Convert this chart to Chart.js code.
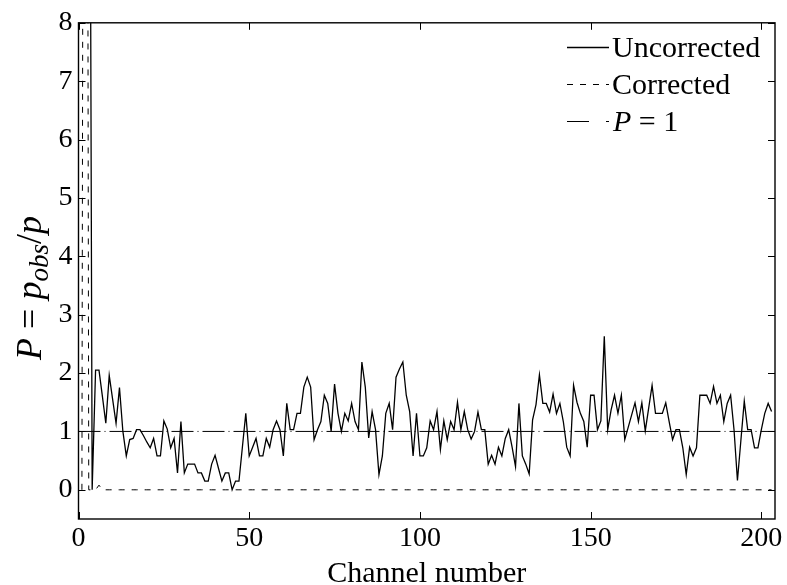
<!DOCTYPE html>
<html>
<head>
<meta charset="utf-8">
<script src="https://cdn.jsdelivr.net/npm/chart.js@4.4.0/dist/chart.umd.min.js"></script>
<style>
  html, body { margin: 0; padding: 0; background: #fff; }
</style>
</head>
<body>
<canvas id="chart" width="787" height="585"></canvas>
<script>
// P = p_obs / p per channel, channels 1..203
const uncorrected = [
  40, 40, 19, 0, 2.05, 2.05, 1.6, 1.14, 1.96, 1.55,
  1.14, 1.75, 1.0, 0.58, 0.86, 0.88, 1.03, 1.03, 0.93, 0.82,
  0.72, 0.88, 0.58, 0.58, 1.18, 1.04, 0.72, 0.88, 0.29, 1.17,
  0.29, 0.44, 0.44, 0.44, 0.29, 0.29, 0.15, 0.15, 0.44, 0.59,
  0.37, 0.15, 0.29, 0.29, 0, 0.15, 0.15, 0.73, 1.31, 0.58,
  0.73, 0.88, 0.58, 0.58, 0.88, 0.73, 1.03, 1.18, 1.03, 0.58,
  1.48, 1.03, 1.03, 1.31, 1.31, 1.76, 1.93, 1.76, 0.86, 1.03,
  1.17, 1.62, 1.48, 1.0, 1.81, 1.31, 1.0, 1.31, 1.18, 1.48,
  1.17, 1.03, 2.19, 1.76, 0.89, 1.34, 1.03, 0.26, 0.58, 1.31,
  1.48, 1.03, 1.93, 2.07, 2.19, 1.62, 1.34, 0.58, 1.31, 0.58,
  0.58, 0.72, 1.18, 1.03, 1.34, 0.69, 1.18, 0.86, 1.17, 1.03,
  1.5, 1.03, 1.34, 1.03, 0.87, 1.0, 1.33, 1.03, 1.03, 0.44,
  0.59, 0.44, 0.73, 0.58, 0.88, 1.03, 0.73, 0.4, 1.48, 0.58,
  0.44, 0.27, 1.2, 1.46, 1.97, 1.48, 1.48, 1.33, 1.64, 1.31,
  1.48, 1.17, 0.73, 0.58, 1.79, 1.5, 1.31, 1.17, 0.73, 1.62,
  1.62, 1.03, 1.18, 2.63, 1.03, 1.37, 1.62, 1.31, 1.62, 0.86,
  1.07, 1.28, 1.49, 1.17, 1.49, 1.01, 1.4, 1.79, 1.31, 1.31,
  1.31, 1.49, 1.17, 0.86, 1.03, 1.03, 0.72, 0.26, 0.73, 0.58,
  0.72, 1.62, 1.62, 1.62, 1.48, 1.77, 1.48, 1.62, 1.17, 1.48,
  1.62, 1.03, 0.16, 0.84, 1.52, 1.03, 1.03, 0.72, 0.72, 1.03,
  1.31, 1.48, 1.34
];
const corrected = [
  0, 35, 0, 0, 0, 0.08, 0, 0, 0, 0,
  0, 0, 0, 0, 0, 0, 0, 0, 0, 0,
  0, 0, 0, 0, 0, 0, 0, 0, 0, 0,
  0, 0, 0, 0, 0, 0, 0, 0, 0, 0,
  0, 0, 0, 0, 0, 0, 0, 0, 0, 0,
  0, 0, 0, 0, 0, 0, 0, 0, 0, 0,
  0, 0, 0, 0, 0, 0, 0, 0, 0, 0,
  0, 0, 0, 0, 0, 0, 0, 0, 0, 0,
  0, 0, 0, 0, 0, 0, 0, 0, 0, 0,
  0, 0, 0, 0, 0, 0, 0, 0, 0, 0,
  0, 0, 0, 0, 0, 0, 0, 0, 0, 0,
  0, 0, 0, 0, 0, 0, 0, 0, 0, 0,
  0, 0, 0, 0, 0, 0, 0, 0, 0, 0,
  0, 0, 0, 0, 0, 0, 0, 0, 0, 0,
  0, 0, 0, 0, 0, 0, 0, 0, 0, 0,
  0, 0, 0, 0, 0, 0, 0, 0, 0, 0,
  0, 0, 0, 0, 0, 0, 0, 0, 0, 0,
  0, 0, 0, 0, 0, 0, 0, 0, 0, 0,
  0, 0, 0, 0, 0, 0, 0, 0, 0, 0,
  0, 0, 0, 0, 0, 0, 0, 0, 0, 0,
  0, 0, 0
];
const channels = uncorrected.map((v, i) => i + 1);
const referenceLevel = 1;

const xRange = [0, 204];
const yRange = [-0.5, 8];
const xTicks = [0, 50, 100, 150, 200];
const yTicks = [0, 1, 2, 3, 4, 5, 6, 7, 8];
const legendLabels = ['Uncorrected', 'Corrected', 'P = 1'];

const FONT = '"Liberation Serif", "Times New Roman", serif';

function toPoints(xs, ys) {
  return xs.map((x, i) => ({x: x, y: ys[i]}));
}

// draws the box, inward ticks, axis titles and legend (matlab style)
const overlay = {
  id: 'overlay',
  afterDatasetsDraw(chart) {
    const {ctx, chartArea: a, scales} = chart;
    const x = scales.x, y = scales.y;
    ctx.save();
    ctx.strokeStyle = '#000';
    ctx.lineWidth = 1.4;
    ctx.strokeRect(a.left, a.top, a.right - a.left, a.bottom - a.top);

    ctx.lineWidth = 1;
    ctx.beginPath();
    xTicks.forEach(v => {
      const px = Math.round(x.getPixelForValue(v)) + 0.5;
      ctx.moveTo(px, a.bottom); ctx.lineTo(px, a.bottom - 7);
      ctx.moveTo(px, a.top); ctx.lineTo(px, a.top + 7);
    });
    yTicks.forEach(v => {
      const py = Math.round(y.getPixelForValue(v)) + 0.5;
      ctx.moveTo(a.left, py); ctx.lineTo(a.left + 7, py);
      ctx.moveTo(a.right, py); ctx.lineTo(a.right - 7, py);
    });
    ctx.stroke();

    ctx.fillStyle = '#000';
    ctx.textBaseline = 'alphabetic';

    // x title
    ctx.font = '30px ' + FONT;
    ctx.textAlign = 'center';
    ctx.fillText('Channel number', (a.left + a.right) / 2, 582);

    // y title: P = p_obs/p, rotated
    const parts = [
      {t: 'P', it: true}, {t: ' = ', it: false}, {t: 'p', it: true},
      {t: 'obs', it: true, sub: true}, {t: '/', it: false}, {t: 'p', it: true}
    ];
    const fontFor = p => (p.it ? 'italic ' : '') + (p.sub ? '27px ' : '36px ') + FONT;
    let total = 0;
    parts.forEach(p => { ctx.font = fontFor(p); p.w = ctx.measureText(p.t).width; total += p.w; });
    ctx.save();
    ctx.translate(41, 288);
    ctx.rotate(-Math.PI / 2);
    ctx.textAlign = 'left';
    let cx = -total / 2;
    parts.forEach(p => {
      ctx.font = fontFor(p);
      ctx.fillText(p.t, cx, p.sub ? 7 : 0);
      cx += p.w;
    });
    ctx.restore();

    // legend
    const rows = [47, 84, 121];
    const dashes = [[], [6, 7], [22, 17, 3, 50]];
    rows.forEach((ry, i) => {
      ctx.setLineDash(dashes[i]);
      ctx.lineWidth = i === 0 ? 1.3 : 1;
      ctx.beginPath();
      ctx.moveTo(567, ry + 0.5);
      ctx.lineTo(609, ry + 0.5);
      ctx.stroke();
    });
    ctx.setLineDash([]);
    ctx.textAlign = 'left';
    ctx.font = '30px ' + FONT;
    ctx.fillText(legendLabels[0], 612, rows[0] + 10);
    ctx.fillText(legendLabels[1], 612, rows[1] + 10);
    ctx.font = 'italic 30px ' + FONT;
    ctx.fillText('P', 613, rows[2] + 10);
    const pw = ctx.measureText('P').width;
    ctx.font = '30px ' + FONT;
    ctx.fillText(legendLabels[2].slice(1), 613 + pw, rows[2] + 10);
    ctx.restore();
  }
};

const tickFont = {family: FONT, size: 28};

new Chart(document.getElementById('chart'), {
  type: 'line',
  data: {
    datasets: [
      {
        label: legendLabels[0],
        data: toPoints(channels, uncorrected),
        borderColor: '#000',
        borderWidth: 1.3,
        pointRadius: 0,
        tension: 0,
        clip: 0
      },
      {
        label: legendLabels[1],
        data: toPoints(channels, corrected),
        borderColor: '#000',
        borderWidth: 1,
        borderDash: [6, 7],
        pointRadius: 0,
        tension: 0,
        clip: 0
      },
      {
        label: legendLabels[2],
        data: toPoints(xRange, [referenceLevel, referenceLevel]),
        borderColor: '#000',
        borderWidth: 1,
        borderDash: [22, 4, 1, 4],
        pointRadius: 0,
        clip: 0
      }
    ]
  },
  options: {
    responsive: false,
    animation: false,
    layout: {padding: {top: 15, right: 12, left: 0, bottom: 0}},
    plugins: {legend: {display: false}, tooltip: {enabled: false}},
    scales: {
      x: {
        type: 'linear',
        min: xRange[0],
        max: xRange[1],
        afterBuildTicks: ax => { ax.ticks = xTicks.map(v => ({value: v})); },
        afterFit: s => { s.height = 66; },
        grid: {display: false, drawTicks: false},
        border: {display: false},
        ticks: {font: tickFont, color: '#000', padding: 3, maxRotation: 0, autoSkip: false}
      },
      y: {
        type: 'linear',
        min: yRange[0],
        max: yRange[1],
        afterBuildTicks: ax => { ax.ticks = yTicks.map(v => ({value: v})); },
        afterFit: s => { s.width = 78.5; },
        grid: {display: false, drawTicks: false},
        border: {display: false},
        ticks: {font: tickFont, color: '#000', padding: 6, autoSkip: false}
      }
    }
  },
  plugins: [overlay]
});
</script>
</body>
</html>
